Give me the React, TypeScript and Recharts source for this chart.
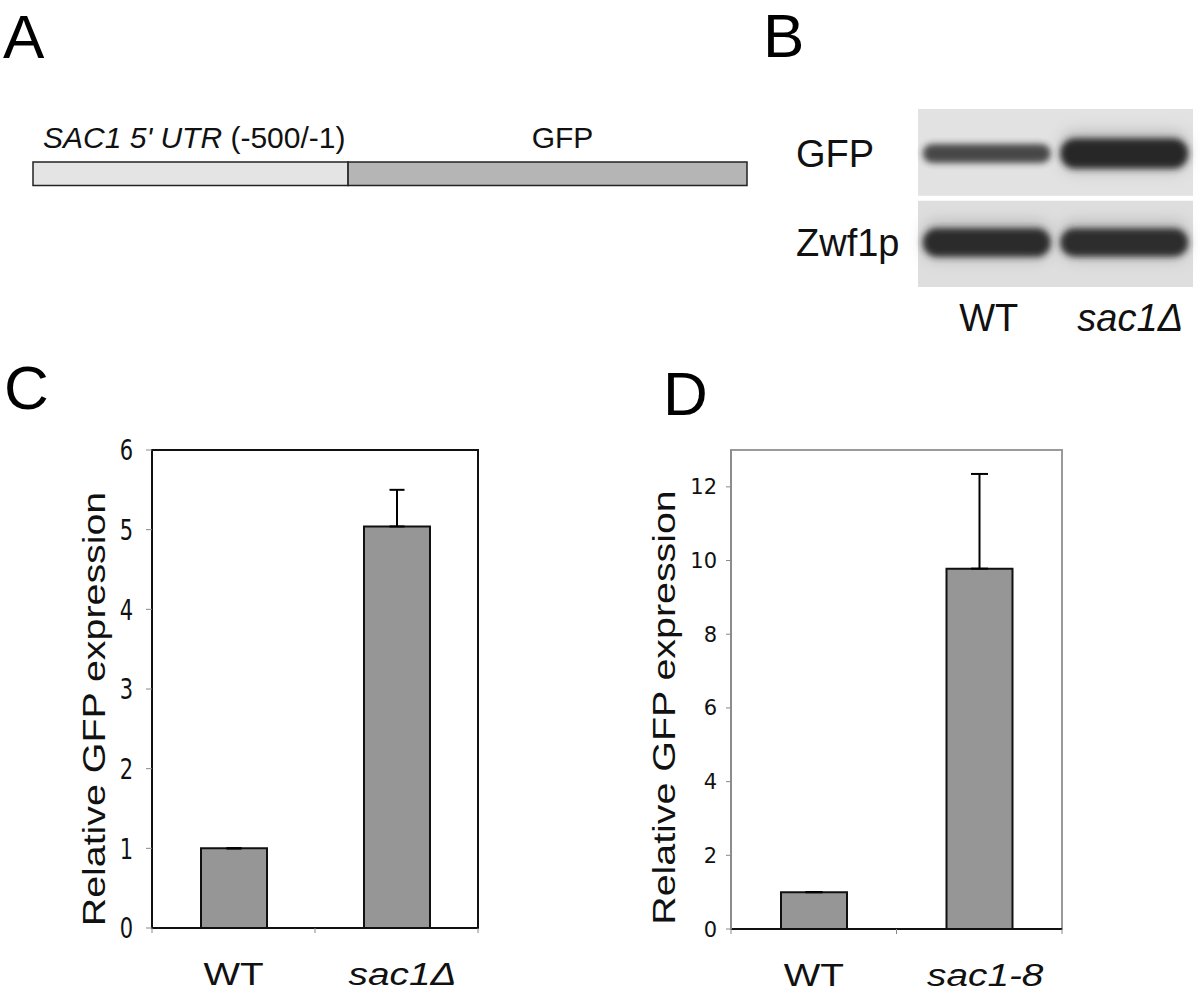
import React from 'react'
import {
  BarChart,
  Bar,
  XAxis,
  YAxis,
  ErrorBar,
  ReferenceArea,
  LabelList,
  Label,
  ScatterChart,
  Scatter
} from 'recharts'

// A: reporter construct, segment lengths (bp)
const constructParts = ["SAC1 5' UTR", 'GFP']
const constructRange = ' (-500/-1)'
const constructLengths = [500, 633]

// B: western blot, relative band signal per lane
const blotLanes = ['WT', 'sac1Δ']
const blotRows = ['GFP', 'Zwf1p']
const gfpSignal = [1.0, 2.4]
const zwf1pSignal = [2.2, 2.1]

// C: sac1Δ
const strainsC = ['WT', 'sac1Δ']
const valuesC = [1.0, 5.04]
const errorsC = [0, 0.46]
const ticksC = [0, 1, 2, 3, 4, 5, 6]

// D: sac1-8
const strainsD = ['WT', 'sac1-8']
const valuesD = [1.0, 9.78]
const errorsD = [0, 2.57]
const ticksD = [0, 2, 4, 6, 8, 10, 12]

const SANS = 'Liberation Sans, Arial, Helvetica, sans-serif'
const VERDANA = 'DejaVu Sans, Verdana, sans-serif'

const constructData = [
  { name: 'construct', utr: constructLengths[0], gfp: constructLengths[1] }
]
const blotData = blotRows.flatMap((row, r) =>
  blotLanes.map((lane, l) => ({
    lane: l + 0.5,
    row: r + 0.5,
    signal: (r === 0 ? gfpSignal : zwf1pSignal)[l],
    id: `${row}-${lane}`
  }))
)
const dataC = strainsC.map((s, i) => ({ strain: s, value: valuesC[i], err: [0, errorsC[i]] }))
const dataD = strainsD.map((s, i) => ({ strain: s, value: valuesD[i], err: [0, errorsD[i]] }))

const utrLabel = (props: any) => {
  const { x, y } = props
  return (
    <text x={x + 10} y={y - 14} fontSize={30} fontFamily={SANS} fill='#111'>
      <tspan fontStyle='italic'>{constructParts[0]}</tspan>
      <tspan>{constructRange}</tspan>
    </text>
  )
}

const gfpLabel = (props: any) => {
  const { x, y, width } = props
  return (
    <text x={x + width / 2 + 15} y={y - 14} fontSize={30} fontFamily={SANS} fill='#111' textAnchor='middle'>
      {constructParts[1]}
    </text>
  )
}

const BlotBand = (props: any) => {
  const { cx, cy, payload } = props
  const w = 128
  const h = 11 + 8 * payload.signal
  const id = `blur-${payload.id}`
  const op = Math.min(1, 0.7 + 0.12 * payload.signal)
  return (
    <g>
      <defs>
        <filter id={id} x='-20%' y='-80%' width='140%' height='260%'>
          <feGaussianBlur stdDeviation={3.2} />
        </filter>
        <filter id={id + '-h'} x='-20%' y='-100%' width='140%' height='300%'>
          <feGaussianBlur stdDeviation={7} />
        </filter>
      </defs>
      {payload.signal > 2 && (
        <rect x={cx - w / 2} y={cy - h / 2 - 8} width={w} height={h + 12} rx={h / 2}
          fill='#8a8a8a' opacity={0.4} filter={`url(#${id}-h)`} />
      )}
      <rect x={cx - w / 2} y={cy - h / 2} width={w} height={h} rx={h / 2}
        fill='#262626' opacity={op} filter={`url(#${id})`} />
    </g>
  )
}

const RowTick = (props: any) => {
  const { y, payload } = props
  return (
    <text x={36} y={y} dy='0.35em' fontSize={38} fontFamily={SANS} fill='#111'>
      {blotRows[Math.floor(payload.value)]}
    </text>
  )
}

const LaneTick = (props: any) => {
  const { x, y, payload } = props
  const name = blotLanes[Math.floor(payload.value)]
  const italic = name !== 'WT'
  return (
    <text x={x + (italic ? 6 : 2)} y={y + 44} fontSize={38} fontFamily={SANS} fill='#111'
      textAnchor='middle' fontStyle={italic ? 'italic' : 'normal'}>
      {name}
    </text>
  )
}

const StrainTick = (props: any) => {
  const { x, y, payload, index, visibleTicksCount } = props
  const half = payload?.offset ?? 0
  const italic = payload.value !== 'WT'
  const last = index === visibleTicksCount - 1
  return (
    <g>
      <line x1={x - half} x2={x - half} y1={y} y2={y + 5} stroke='#888' />
      {last && <line x1={x + half} x2={x + half} y1={y} y2={y + 5} stroke='#888' />}
      <text transform={`translate(${x + (italic ? 6 : 0)},${y + 57}) scale(1.25,1)`}
        textAnchor='middle' fontSize={31} fontFamily={SANS} fill='#111'
        fontStyle={italic ? 'italic' : 'normal'}>
        {payload.value}
      </text>
    </g>
  )
}

const ValueTick = (props: any) => {
  const { x, y, payload, stretch = 1 } = props
  return (
    <text transform={`translate(${x},${y}) scale(1,${stretch})`} textAnchor='end' dy='0.36em'
      fontSize={21} fontFamily={VERDANA} fill='#111'>
      {payload.value}
    </text>
  )
}

const axisTitle = (dx: number, dy: number) => (props: any) => {
  const { x, y, width, height } = props.viewBox
  const tx = x + width + dx
  const ty = y + height / 2 + dy
  return (
    <text transform={`translate(${tx},${ty}) rotate(-90) scale(1.23,1)`} textAnchor='middle'
      fontSize={32} fontFamily={SANS} fill='#111'>
      Relative GFP expression
    </text>
  )
}

function ConstructPanel() {
  return (
    <BarChart width={780} height={200} data={constructData} layout='vertical'
      margin={{ top: 61, right: 33, bottom: 113, left: 33 }}>
      <XAxis type='number' hide domain={[0, 'dataMax']} />
      <YAxis type='category' dataKey='name' hide />
      <Bar dataKey='utr' stackId='c' fill='#e4e4e4' stroke='#222' strokeWidth={1.5} barSize={26} isAnimationActive={false}>
        <LabelList dataKey='utr' content={utrLabel} />
      </Bar>
      <Bar dataKey='gfp' stackId='c' fill='#b5b5b5' stroke='#222' strokeWidth={1.5} barSize={26} isAnimationActive={false}>
        <LabelList dataKey='gfp' content={gfpLabel} />
      </Bar>
    </BarChart>
  )
}

function BlotPanel() {
  return (
    <ScatterChart width={440} height={260} margin={{ top: 19, right: 7, bottom: 0, left: 0 }}>
      <XAxis type='number' dataKey='lane' domain={[0, 2]} ticks={[0.5, 1.5]} height={63}
        axisLine={false} tickLine={false} tickSize={0} tickMargin={0} tick={<LaneTick />} interval={0} />
      <YAxis type='number' dataKey='row' domain={[0, 2]} ticks={[0.5, 1.5]} reversed width={158}
        axisLine={false} tickLine={false} tickSize={0} tickMargin={0} tick={<RowTick />} interval={0} />
      <ReferenceArea x1={0} x2={2} y1={0} y2={0.975} fill='#e2e2e2' fillOpacity={1} stroke='none' />
      <ReferenceArea x1={0} x2={2} y1={1.03} y2={2} fill='#dedede' fillOpacity={1} stroke='none' />
      <Scatter data={blotData} isAnimationActive={false} shape={(p: any) => <BlotBand {...p} />} />
    </ScatterChart>
  )
}

function BarPanel({ data, ticks, max, axisColor, frameColor, yWidth, right, xHeight, tickSize, tickMargin, stretch, titleDx, titleDy, errWidth }: any) {
  return (
    <BarChart width={500} height={578} data={data}
      margin={{ top: 30, right, bottom: 10, left: 0 }}>
      <ReferenceArea y1={0} y2={max} fill='none' stroke={frameColor} strokeWidth={2} />
      <XAxis dataKey='strain' height={xHeight} axisLine={{ stroke: '#111', strokeWidth: 2 }}
        tickLine={false} tickSize={0} tickMargin={0} tick={<StrainTick />} interval={0} />
      <YAxis width={yWidth} domain={[0, max]} ticks={ticks} interval={0}
        axisLine={{ stroke: axisColor, strokeWidth: 2 }} tickLine={{ stroke: '#888' }}
        tickSize={tickSize} tickMargin={tickMargin} tick={<ValueTick stretch={stretch} />}>
        <Label content={axisTitle(titleDx, titleDy)} />
      </YAxis>
      <Bar dataKey='value' fill='#969696' stroke='#111' strokeWidth={2} barSize={66} isAnimationActive={false}>
        <ErrorBar dataKey='err' direction='y' width={errWidth} stroke='#000' strokeWidth={2} />
      </Bar>
    </BarChart>
  )
}

export default function App() {
  return (
    <div style={{ position: 'absolute', left: 0, top: 0, width: 1200, height: 998, background: '#fff', overflow: 'hidden', fontFamily: SANS }}>
      <svg width={1200} height={998} style={{ position: 'absolute', left: 0, top: 0 }}>
        <g fontFamily={SANS} fontSize={62} fill='#000'>
          <text x={3} y={58}>A</text>
          <text x={763} y={57}>B</text>
          <text x={4} y={409}>C</text>
          <text x={663} y={415}>D</text>
        </g>
      </svg>
      <div style={{ position: 'absolute', left: 0, top: 100 }}>
        <ConstructPanel />
      </div>
      <div style={{ position: 'absolute', left: 760, top: 90 }}>
        <BlotPanel />
      </div>
      <div style={{ position: 'absolute', left: 0, top: 420 }}>
        <BarPanel data={dataC} ticks={ticksC} max={6} axisColor='#111' frameColor='#111'
          yWidth={152} right={22} xHeight={60} tickSize={6} tickMargin={13} stretch={1.36}
          titleDx={-47} titleDy={20} errWidth={7.5} />
      </div>
      <div style={{ position: 'absolute', left: 580, top: 420 }}>
        <BarPanel data={dataD} ticks={ticksD} max={13} axisColor='#8c8c8c' frameColor='#9a9a9a'
          yWidth={151} right={18} xHeight={59} tickSize={5} tickMargin={9} stretch={1}
          titleDx={-56} titleDy={18} errWidth={8.5} />
      </div>
    </div>
  )
}
